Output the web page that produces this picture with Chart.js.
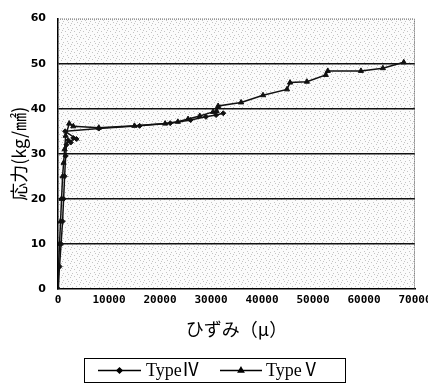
<!DOCTYPE html>
<html>
<head>
<meta charset="utf-8">
<script src="https://cdn.jsdelivr.net/npm/chart.js@4"></script>
<style>
  html, body { margin: 0; padding: 0; background: #fff; }
  #wrap { width: 428px; height: 383px; }
</style>
</head>
<body>
<div id="wrap"><canvas id="c" width="428" height="383"></canvas></div>
<script>
// strain (μ) and stress (kg/mm2)
const type4Strain = [0, 300, 600, 900, 1100, 1300, 1500, 1650, 2000, 2500, 3000, 3600, 1400, 8000, 16000, 22000, 26000, 29000, 31000, 32400];
const type4Stress = [0, 5, 10, 15, 20, 25, 29.5, 32, 33, 32.5, 33.5, 33.3, 35, 35.6, 36.2, 36.8, 37.5, 38.2, 38.6, 39];
const type5Strain = [0, 100, 300, 500, 700, 900, 1100, 1300, 1500, 2200, 3000, 8000, 15000, 21000, 23500, 25500, 27800, 30400, 31100, 31400, 35900, 40200, 44900, 45500, 48800, 52500, 52900, 59400, 63700, 67800];
const type5Stress = [0, 5, 10, 15, 20, 25, 28, 31, 34, 36.7, 36.1, 35.8, 36.2, 36.7, 37.1, 37.7, 38.4, 39.3, 39.5, 40.6, 41.4, 43, 44.3, 45.8, 46, 47.5, 48.4, 48.4, 49, 50.3];
const xTicks = [0, 10000, 20000, 30000, 40000, 50000, 60000, 70000];
const yTicks = [0, 10, 20, 30, 40, 50, 60];
const seriesNames = ['TypeⅣ', 'TypeⅤ'];

const pts = (xs, ys) => xs.map((x, i) => ({ x: x, y: ys[i] }));

// stippled background like the printed chart
function stipple(ctx) {
    const p = document.createElement('canvas');
    p.width = 9; p.height = 7;
    const g = p.getContext('2d');
    g.fillStyle = '#fbfbfb';
    g.fillRect(0, 0, 9, 7);
    g.fillStyle = '#c4c4c4';
    [[0, 0], [5, 1], [2, 3], [7, 4], [4, 6], [8, 2]].forEach(d => g.fillRect(d[0], d[1], 1, 1));
    return ctx.createPattern(p, 'repeat');
}

const backdrop = {
    id: 'backdrop',
    beforeDraw(chart) {
        const { ctx, chartArea: a } = chart;
        ctx.save();
        ctx.fillStyle = stipple(ctx);
        ctx.fillRect(a.left, a.top, a.right - a.left, a.bottom - a.top);
        ctx.restore();
    },
    afterDraw(chart) {
        const { ctx, chartArea: a } = chart;
        ctx.save();
        // dotted top and right edge
        ctx.strokeStyle = '#555';
        ctx.lineWidth = 1;
        ctx.setLineDash([1, 1]);
        ctx.beginPath();
        ctx.moveTo(a.left, a.top + 0.5);
        ctx.lineTo(a.right - 0.5, a.top + 0.5);
        ctx.lineTo(a.right - 0.5, a.bottom);
        ctx.stroke();
        ctx.setLineDash([]);

        // legend box
        const bx = 84, by = 358, bw = 261, bh = 24;
        ctx.strokeStyle = '#000';
        ctx.lineWidth = 1;
        ctx.strokeRect(bx + 0.5, by + 0.5, bw, bh);
        ctx.font = '18px "Liberation Serif", "Noto Sans CJK JP"';
        ctx.fillStyle = '#000';
        ctx.textBaseline = 'middle';
        const items = [
            { x1: 98, x2: 141, tx: 146, style: 'rectRot', r: 2.5 },
            { x1: 220, x2: 262, tx: 266, style: 'triangle', r: 3 },
        ];
        const cy = by + bh / 2 + 0.5;
        items.forEach((it, i) => {
            ctx.lineWidth = 1.5;
            ctx.beginPath();
            ctx.moveTo(it.x1, cy);
            ctx.lineTo(it.x2, cy);
            ctx.stroke();
            Chart.helpers.drawPoint(ctx, { pointStyle: it.style, radius: it.r, borderWidth: 1 }, (it.x1 + it.x2) / 2, cy);
            ctx.fillText(seriesNames[i], it.tx, cy + 1);
        });
        ctx.restore();
    },
};

new Chart(document.getElementById('c'), {
    type: 'scatter',
    data: {
        datasets: [
            {
                label: seriesNames[0],
                data: pts(type4Strain, type4Stress),
                showLine: true,
                borderColor: '#111',
                backgroundColor: '#111',
                borderWidth: 1.5,
                pointStyle: 'rectRot',
                pointRadius: 2.5,
                pointBorderWidth: 1,
            },
            {
                label: seriesNames[1],
                data: pts(type5Strain, type5Stress),
                showLine: true,
                borderColor: '#111',
                backgroundColor: '#111',
                borderWidth: 1.5,
                pointStyle: 'triangle',
                pointRadius: 3,
                pointBorderWidth: 1,
            },
        ],
    },
    options: {
        responsive: false,
        animation: false,
        layout: {
            padding: { top: 12, right: 13, bottom: 39, left: 0 },
        },
        scales: {
            x: {
                type: 'linear',
                min: 0,
                max: 70000,
                afterBuildTicks: s => { s.ticks = xTicks.map(v => ({ value: v })); },
                afterFit: s => { s.height = 55; s.paddingRight = 0; },
                grid: { display: false, drawTicks: false },
                border: { display: true, color: '#000', width: 1.5 },
                ticks: {
                    padding: 5,
                    color: '#000',
                    font: { family: '"DejaVu Sans Mono"', size: 11, weight: 'bold' },
                    maxRotation: 0,
                    callback: v => String(v),
                },
                title: {
                    display: true,
                    text: 'ひずみ（μ）',
                    color: '#000',
                    font: { family: '"Noto Sans CJK JP"', size: 18 },
                    padding: { top: 0, bottom: 4 },
                },
            },
            y: {
                min: 0,
                max: 60,
                afterBuildTicks: s => { s.ticks = yTicks.map(v => ({ value: v })); },
                afterFit: s => { s.width = 58; },
                grid: {
                    drawTicks: false,
                    color: c => (c.tick && (c.tick.value === 0 || c.tick.value === 60)) ? 'rgba(0,0,0,0)' : '#111',
                    lineWidth: 1.5,
                },
                border: { display: true, color: '#000', width: 1.5 },
                ticks: {
                    padding: 12,
                    color: '#000',
                    font: { family: '"DejaVu Sans"', size: 11, weight: 'bold' },
                },
                title: {
                    display: true,
                    text: '応力(kg/㎟)',
                    color: '#000',
                    font: { family: '"Noto Sans CJK JP"', size: 18 },
                    padding: { top: 8, bottom: 0 },
                },
            },
        },
        plugins: {
            legend: { display: false },
            tooltip: { enabled: false },
        },
    },
    plugins: [backdrop],
});
</script>
</body>
</html>
